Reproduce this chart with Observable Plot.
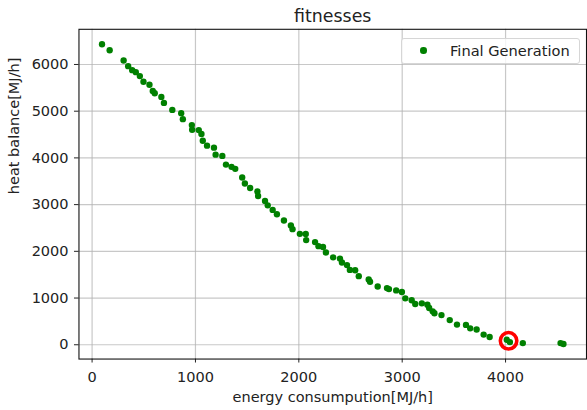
<!DOCTYPE html>
<html>
<head>
<meta charset="utf-8">
<script src="https://cdn.jsdelivr.net/npm/d3@7"></script>
<script src="https://cdn.jsdelivr.net/npm/@observablehq/plot@0.6"></script>
<style>
  html, body { margin: 0; padding: 0; background: #fff; overflow: hidden; }
  #wrap { position: relative; width: 587px; height: 410px; overflow: hidden; }
  #legend {
    position: absolute; left: 401px; top: 38px; width: 177px; height: 24px;
    border: 1px solid #d6d6d6; border-radius: 3px; background: rgba(255,255,255,0.8);
    font-family: "DejaVu Sans", sans-serif; font-size: 14.6px; color: #222;
  }
  #legend .mk { position: absolute; left: 18px; top: 8px; width: 6.5px; height: 6.5px; border-radius: 50%; background: #008000; }
  #legend .lb { position: absolute; left: 48px; top: 3px; line-height: 17px; white-space: nowrap; }
</style>
</head>
<body>
<div id="wrap"></div>
<script>
// energy consumption [MJ/h]
const energy = [96,170,305,349,388,423,462,497,555,587,606,670,695,776,862,878,965,968,1032,1058,
  1071,1112,1179,1195,1260,1295,1349,1385,1452,1478,1529,1599,1606,1673,1699,1747,1788,1856,1923,1939,
  2010,2067,2071,2157,2190,2234,2262,2332,2398,2417,2466,2494,2545,2580,2676,2689,2763,2853,2872,2942,
  2997,3030,3092,3126,3190,3244,3261,3295,3312,3380,3460,3530,3617,3658,3720,3788,3846,4012,4042,4167,
  4532,4560];
// heat balance [MJ/h]
const heat = [6432,6305,6085,5964,5879,5836,5751,5630,5566,5432,5383,5305,5177,5028,4957,4830,4702,4602,4596,4511,
  4368,4262,4219,4070,4043,3857,3809,3766,3581,3453,3355,3283,3185,3079,2985,2887,2794,2660,2553,2475,
  2375,2370,2240,2198,2110,2092,1975,1872,1845,1760,1705,1602,1596,1468,1397,1348,1248,1213,1191,1163,
  1130,993,953,872,886,857,787,716,674,635,528,432,425,351,326,217,167,106,57,36,
  36,15];
// highlighted solution
const selEnergy = [4029];
const selHeat = [85];

const xTicks = [0,1000,2000,3000,4000];
const yTicks = [0,1000,2000,3000,4000,5000,6000];
const title = "fitnesses";
const xLabel = "energy consumpution[MJ/h]";
const yLabel = "heat balance[MJ/h]";
const legendLabel = "Final Generation";

const pts = energy.map((e, i) => ({e, h: heat[i]}));
const sel = selEnergy.map((e, i) => ({e, h: selHeat[i]}));
const fmt = d3.format("d");

const chart = Plot.plot({
  width: 591, height: 410,
  marginLeft: 79, marginRight: 1, marginTop: 29, marginBottom: 49,
  x: {domain: [-127, 4783]},
  y: {domain: [-306, 6753]},
  style: {fontFamily: "DejaVu Sans, sans-serif", fontSize: "14.6px", background: "white", color: "#222"},
  marks: [
    Plot.gridX(xTicks, {stroke: "#b0b0b0", strokeOpacity: 0.7, strokeWidth: 1.2}),
    Plot.gridY(yTicks, {stroke: "#b0b0b0", strokeOpacity: 0.7, strokeWidth: 1.2}),
    Plot.axisX(xTicks, {tickSize: 4, tickPadding: 8.5, label: null, tickFormat: fmt, stroke: "#222", fill: "#222", fontSize: 14.6}),
    Plot.axisY(yTicks, {tickSize: 4.5, tickPadding: 6, label: null, tickFormat: fmt, stroke: "#222", fill: "#222", fontSize: 14.6}),
    Plot.frame({stroke: "#111", strokeWidth: 1.1}),
    Plot.dot(pts, {x: "e", y: "h", r: 3.2, fill: "#008000", stroke: "none"}),
    Plot.dot(sel, {x: "e", y: "h", r: 8.3, fill: "none", stroke: "#ff0000", strokeWidth: 3.6}),
    Plot.text([title], {frameAnchor: "top", lineAnchor: "bottom", dy: -7, fontSize: 17.5, fill: "#222"}),
    Plot.text([xLabel], {frameAnchor: "bottom", lineAnchor: "bottom", dy: 43, fontSize: 14.6, fill: "#222"}),
    Plot.text([yLabel], {frameAnchor: "left", lineAnchor: "bottom", rotate: -90, dx: -60, fontSize: 14.6, fill: "#222"})
  ]
});
const wrap = document.getElementById("wrap");
wrap.appendChild(chart);
const lg = document.createElement("div");
lg.id = "legend";
lg.innerHTML = '<span class="mk"></span><span class="lb"></span>';
lg.querySelector(".lb").textContent = legendLabel;
wrap.appendChild(lg);
</script>
</body>
</html>
